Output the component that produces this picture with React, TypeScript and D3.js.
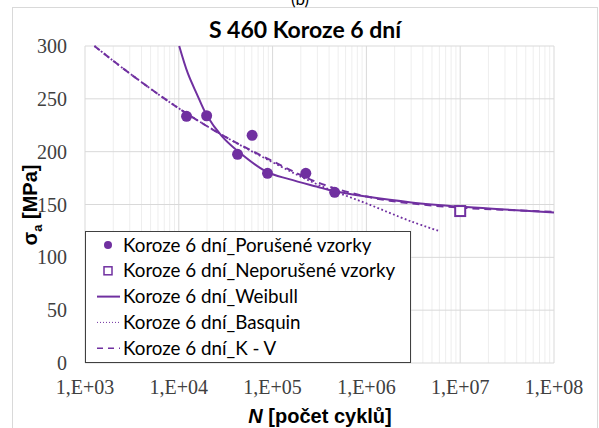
import React, { useEffect, useRef } from 'react';
import * as d3 from 'd3';

// broken specimens (N, sigma_a)
const failedN = [12100, 19800, 42300, 60500, 88300, 226000, 459000];
const failedS = [233.5, 234, 197.5, 215.5, 179.5, 179.5, 161.5];

// run-out specimen
const runoutN = [1e7];
const runoutS = [143.8];

// fitted curves
const weibullN = [10100, 12500, 15500, 20000, 28600, 41200, 86100, 150000, 293000, 459000, 1e6, 3e6, 1e7, 3e7, 1e8];
const weibullS = [300, 274, 255, 234, 215, 201.6, 181, 174, 167, 162.5, 157.5, 152, 148, 145.3, 142.5];

const basquinN = [1260, 3000, 1e4, 3e4, 1e5, 3e5, 1e6, 3e6, 5.9e6];
const basquinS = [300, 274, 241, 215, 190, 169, 151, 134, 125];

const kvN = [1260, 3000, 1e4, 3e4, 1e5, 3e5, 1e6, 3e6, 1e7, 3e7, 1e8];
const kvS = [300, 274, 241, 215, 191, 171, 157.5, 151, 147, 145, 143];

const xTicks = [1e3, 1e4, 1e5, 1e6, 1e7, 1e8];
const xTickLabels = ['1,E+03', '1,E+04', '1,E+05', '1,E+06', '1,E+07', '1,E+08'];
const yTicks = [0, 50, 100, 150, 200, 250, 300];

const legendLabels = [
  'Koroze 6 dní_Porušené vzorky',
  'Koroze 6 dní_Neporušené vzorky',
  'Koroze 6 dní_Weibull',
  'Koroze 6 dní_Basquin',
  'Koroze 6 dní_K - V',
];

const PURPLE = '#7030a0';

const App: React.FC = () => {
  const ref = useRef<SVGSVGElement>(null);

  useEffect(() => {
    const svg = d3.select(ref.current);
    svg.selectAll('*').remove();

    const x = d3.scaleLog().domain([1e3, 1e8]).range([85, 554]);
    const y = d3.scaleLinear().domain([0, 300]).range([363, 46]);

    svg.append('rect')
      .attr('width', 599).attr('height', 428).attr('fill', '#fff');

    svg.append('rect')
      .attr('x', 12.5).attr('y', 7.5).attr('width', 585).attr('height', 430)
      .attr('fill', 'none').attr('stroke', '#d9d9d9');

    svg.append('text')
      .attr('x', 300).attr('y', 5)
      .attr('text-anchor', 'middle')
      .attr('font-family', 'Lato').attr('font-size', 17)
      .text('(b)');

    // grid
    const minor: number[] = [];
    for (let e = 3; e < 8; e++) for (let k = 2; k <= 9; k++) minor.push(k * Math.pow(10, e));
    svg.append('g').selectAll('line').data(minor).enter().append('line')
      .attr('x1', d => x(d)).attr('x2', d => x(d))
      .attr('y1', y(0)).attr('y2', y(300))
      .attr('stroke', '#eeeeee').attr('stroke-width', 1);
    svg.append('g').selectAll('line').data(xTicks).enter().append('line')
      .attr('x1', d => x(d)).attr('x2', d => x(d))
      .attr('y1', y(0)).attr('y2', y(300))
      .attr('stroke', '#d9d9d9').attr('stroke-width', 1);
    svg.append('g').selectAll('line').data(yTicks).enter().append('line')
      .attr('x1', x(1e3)).attr('x2', x(1e8))
      .attr('y1', d => y(d)).attr('y2', d => y(d))
      .attr('stroke', '#d9d9d9').attr('stroke-width', 1);

    // tick labels
    svg.append('g').selectAll('text').data(yTicks).enter().append('text')
      .attr('x', 67).attr('y', d => y(d)).attr('dy', '0.35em')
      .attr('text-anchor', 'end')
      .attr('font-family', 'Liberation Serif').attr('font-size', 20)
      .attr('fill', '#404040')
      .text(d => d);
    svg.append('g').selectAll('text').data(xTicks).enter().append('text')
      .attr('x', d => x(d)).attr('y', 394)
      .attr('text-anchor', 'middle')
      .attr('font-family', 'Liberation Serif').attr('font-size', 20)
      .attr('fill', '#404040')
      .text((d, i) => xTickLabels[i]);

    // title
    svg.append('text')
      .attr('x', 305).attr('y', 38)
      .attr('text-anchor', 'middle')
      .attr('font-family', 'Lato').attr('font-weight', 'bold').attr('font-size', 23)
      .attr('fill', '#000')
      .text('S 460 Koroze 6 dní');

    // axis titles
    const xt = svg.append('text')
      .attr('x', 320).attr('y', 423)
      .attr('text-anchor', 'middle')
      .attr('font-family', 'Liberation Sans').attr('font-weight', 'bold').attr('font-size', 20);
    xt.append('tspan').attr('font-style', 'italic').text('N');
    xt.append('tspan').text(' [počet cyklů]');

    const yt = svg.append('text')
      .attr('transform', 'translate(37,205) rotate(-90)')
      .attr('text-anchor', 'middle')
      .attr('font-family', 'Liberation Sans').attr('font-weight', 'bold').attr('font-size', 20);
    yt.append('tspan').text('σ');
    yt.append('tspan').attr('font-size', 13).attr('dy', 5).text('a');
    yt.append('tspan').attr('dy', -5).text(' [MPa]');

    // curves
    const line = d3.line<[number, number]>()
      .x(d => x(d[0])).y(d => y(d[1]))
      .curve(d3.curveCatmullRom.alpha(0.5));

    const pts = (ns: number[], ss: number[]) => ns.map((n, i) => [n, ss[i]] as [number, number]);

    svg.append('path').datum(pts(basquinN, basquinS))
      .attr('d', line).attr('fill', 'none')
      .attr('stroke', PURPLE).attr('stroke-width', 1.8).attr('stroke-dasharray', '1.8,2.4');
    svg.append('path').datum(pts(kvN, kvS))
      .attr('d', line).attr('fill', 'none')
      .attr('stroke', PURPLE).attr('stroke-width', 2).attr('stroke-dasharray', '7,5');
    svg.append('path').datum(pts(weibullN, weibullS))
      .attr('d', line).attr('fill', 'none')
      .attr('stroke', PURPLE).attr('stroke-width', 2);

    // points
    svg.append('g').selectAll('circle').data(pts(failedN, failedS)).enter().append('circle')
      .attr('cx', d => x(d[0])).attr('cy', d => y(d[1])).attr('r', 5.5)
      .attr('fill', PURPLE);
    svg.append('g').selectAll('rect').data(pts(runoutN, runoutS)).enter().append('rect')
      .attr('x', d => x(d[0]) - 5).attr('y', d => y(d[1]) - 5)
      .attr('width', 10).attr('height', 10)
      .attr('fill', '#fff').attr('stroke', PURPLE).attr('stroke-width', 2);

    // legend
    const lg = svg.append('g');
    lg.append('rect')
      .attr('x', 85.5).attr('y', 231.5).attr('width', 325).attr('height', 131)
      .attr('fill', '#fff').attr('stroke', '#404040').attr('stroke-width', 1);
    const rowY = (i: number) => 245 + i * 25.8;
    lg.selectAll('text').data(legendLabels).enter().append('text')
      .attr('x', 123).attr('y', (d, i) => rowY(i)).attr('dy', '0.35em')
      .attr('font-family', 'Lato').attr('font-size', 18.8).attr('fill', '#000')
      .text(d => d);
    lg.append('circle').attr('cx', 108).attr('cy', rowY(0)).attr('r', 4).attr('fill', PURPLE);
    lg.append('rect').attr('x', 104).attr('y', rowY(1) - 4).attr('width', 8).attr('height', 8)
      .attr('fill', '#fff').attr('stroke', PURPLE).attr('stroke-width', 1.5);
    lg.append('line').attr('x1', 97).attr('x2', 120).attr('y1', rowY(2)).attr('y2', rowY(2))
      .attr('stroke', PURPLE).attr('stroke-width', 2);
    lg.append('line').attr('x1', 97).attr('x2', 120).attr('y1', rowY(3)).attr('y2', rowY(3))
      .attr('stroke', PURPLE).attr('stroke-width', 1).attr('stroke-dasharray', '1,2');
    lg.append('line').attr('x1', 97).attr('x2', 120).attr('y1', rowY(4)).attr('y2', rowY(4))
      .attr('stroke', PURPLE).attr('stroke-width', 1.5).attr('stroke-dasharray', '6,5');
  }, []);

  return (
    <svg ref={ref} width={599} height={428}
      style={{ position: 'absolute', left: 0, top: 0, display: 'block' }} />
  );
};

export default App;
